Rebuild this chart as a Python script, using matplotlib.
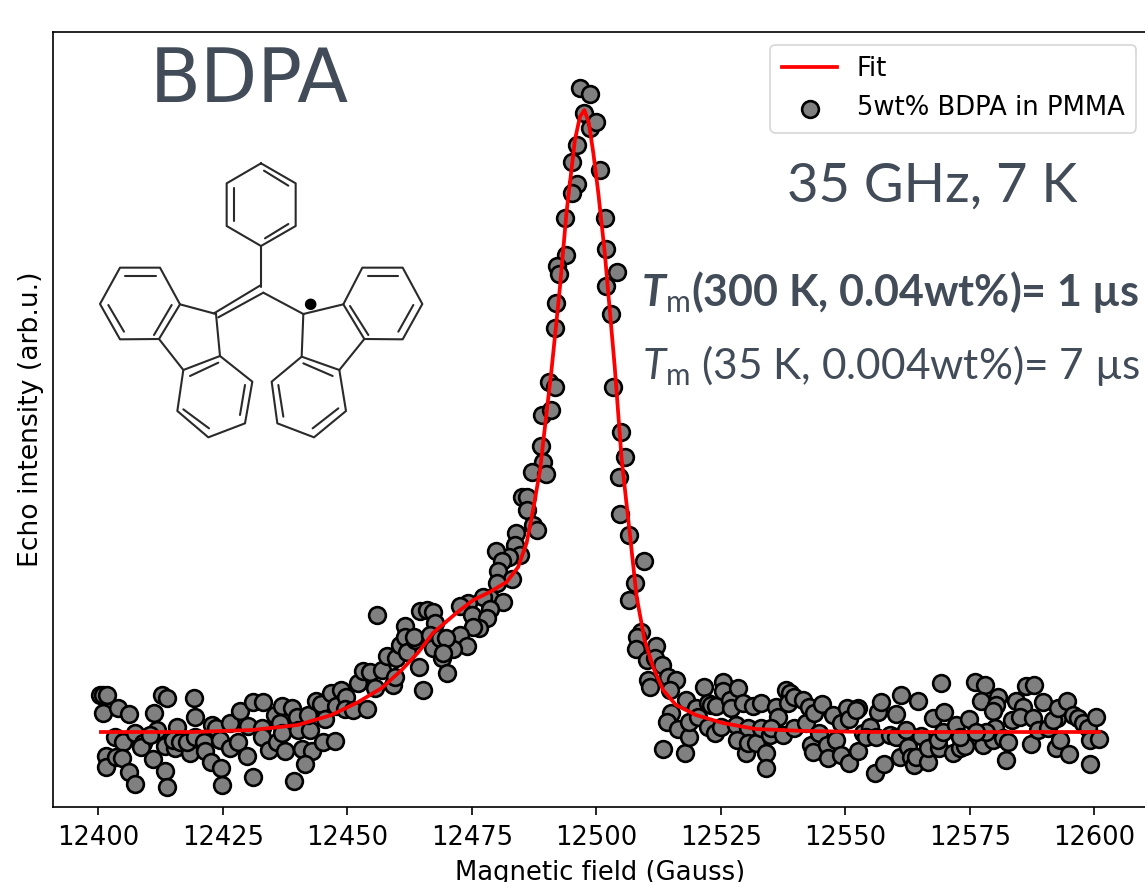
import matplotlib
matplotlib.use("Agg")
import matplotlib.pyplot as plt
from matplotlib.lines import Line2D

plt.rcParams['mathtext.fontset'] = 'custom'
plt.rcParams['mathtext.rm'] = 'Lato'
plt.rcParams['mathtext.it'] = 'Lato:italic'
plt.rcParams['mathtext.bf'] = 'Lato:bold'
plt.rcParams['mathtext.bfit'] = 'Lato:italic:bold'

W, H = 1145, 882

x_ticks = [12400, 12425, 12450, 12475, 12500, 12525, 12550, 12575, 12600]

fit_field = [12400.5, 12410, 12418.9, 12430.9, 12440, 12446.8, 12452.2, 12456.9, 12460.9, 12464.3, 12467.2,
             12471.9, 12475.3, 12478.6, 12482, 12484.3, 12486, 12487.3, 12488.7, 12490, 12491,
             12492.7, 12494, 12495.7, 12496.7, 12497.6, 12498.5, 12499.4, 12500.4, 12501.7, 12502.7,
             12503.7, 12505.1, 12506.8, 12508.1, 12509.7, 12511.4, 12513.4, 12516, 12520, 12525.4,
             12532, 12542, 12555.6, 12601]
fit_int = [0, 0, 0, 2, 7, 17, 30, 44, 62, 80, 99,
           119, 132, 140, 150, 165, 189, 222, 262, 319, 362,
           445, 519, 592, 615, 622, 609, 579, 539, 479, 422,
           365, 272, 195, 135, 92, 65, 42, 27, 17, 9,
           3, 1, 0, 0]

field_low = [12400.3, 12401.0, 12401.8, 12401.0, 12404.0, 12406.1, 12403.3, 12405.0, 12407.3, 12409.0, 12408.5,
             12401.6, 12401.6, 12403.6, 12404.7, 12406.1, 12407.3, 12410.9, 12411.1, 12412.7, 12413.7, 12411.7,
             12410.3, 12413.4, 12415.4, 12415.7, 12415.0, 12416.4, 12418.4, 12417.7, 12419.2, 12419.4, 12413.4,
             12413.8, 12419.4, 12421.2, 12421.4, 12422.7, 12424.6, 12424.9, 12422.9, 12423.7, 12424.4, 12426.4,
             12426.5, 12428.1, 12428.4, 12430.0, 12429.8, 12431.0, 12433.0, 12431.0, 12432.8, 12432.8, 12434.3,
             12435.4, 12435.8, 12436.8, 12436.4, 12436.8, 12437.4, 12438.8, 12439.8, 12440.1, 12440.8, 12442.5,
             12442.1, 12442.9, 12441.5, 12439.3, 12443.8, 12444.8, 12445.6, 12445.1, 12447.5, 12446.8, 12448.8,
             12447.8, 12449.8, 12449.5, 12451.2, 12453.9, 12452.2, 12453.2, 12454.5, 12455.5, 12456.9, 12457.9,
             12459.2, 12459.5, 12459.7, 12460.5, 12461.5, 12461.5, 12461.9, 12463.6, 12463.4, 12464.4, 12465.2,
             12464.6, 12465.9, 12467.1, 12467.6, 12466.6, 12467.1, 12455.9, 12468.6, 12469.0]
int_low = [37, 37, 37, 19, 24, 18, -5, -10, -1, -11, -15,
           -24, -35, -25, -26, -40, -52, -27, 19, 37, 34, 2,
           -3, -14, -16, 5, -8, -10, -21, -10, 34, 15, -39,
           -55, -5, -10, -19, -30, -36, -53, 7, 4, -8, 9,
           -16, -10, 21, 6, -24, 30, 30, -45, 4, -5, -18,
           17, -10, 26, 9, -1, -19, 24, 15, 2, -17, 2,
           17, -19, -32, -49, 31, 28, 13, -10, -9, 39, 42,
           26, 35, 23, 22, 23, 49, 61, 60, 44, 62, 76,
           47, 55, 74, 87, 106, 95, 80, 92, 95, 65, 42,
           121, 122, 120, 109, 97, 84, 117, 94, 74]

field_rise = [12490.4, 12491.7, 12489.0, 12490.9, 12488.8, 12489.2, 12487.0, 12489.9, 12485.1, 12486.1, 12486.1,
              12487.2, 12488.0, 12483.9, 12483.7, 12484.7, 12482.5, 12479.8, 12481.0, 12480.3, 12483.0, 12480.1,
              12478.6, 12477.3, 12481.3, 12474.3, 12472.6, 12475.0, 12478.6, 12478.0, 12476.5, 12475.3, 12472.6,
              12474.1, 12471.3, 12469.9, 12469.3, 12470.1]
int_rise = [350, 345, 317, 322, 286, 270, 260, 258, 235, 235, 222,
            207, 202, 199, 187, 177, 175, 181, 171, 161, 153, 149,
            134, 135, 130, 129, 126, 117, 123, 114, 104, 105, 97,
            86, 83, 94, 79, 59]

field_fall = [12503.4, 12504.9, 12505.8, 12504.6, 12504.7, 12506.6, 12509.6, 12507.8, 12506.5, 12509.0,
              12508.1, 12507.9, 12512.0, 12510.1, 12511.8, 12513.1, 12510.4, 12510.8, 12514.4, 12516.1]
int_fall = [345, 300, 275, 255, 218, 197, 171, 149, 132, 100,
            95, 83, 86, 72, 74, 67, 52, 45, 55, 52]

field_peak = [12496.7, 12498.7, 12497.5, 12498.8, 12500.0, 12496.2, 12495.2, 12500.7, 12496.2, 12495.1, 12493.8,
              12501.8, 12494.0, 12501.9, 12492.1, 12492.5, 12504.1, 12501.9, 12491.9, 12502.9, 12491.7]
int_peak = [644, 638, 619, 604, 610, 587, 570, 562, 548, 539, 514,
            514, 477, 483, 466, 458, 460, 446, 429, 418, 404]

field_high = [12514.7, 12514.9, 12514.1, 12516.4, 12513.4, 12518.1, 12517.9, 12518.7, 12518.7, 12520.1, 12520.4,
              12521.6, 12522.4, 12522.4, 12523.1, 12524.0, 12523.8, 12525.4, 12525.4, 12525.1, 12526.8, 12527.1,
              12528.4, 12529.4, 12528.1, 12531.5, 12533.1, 12530.5, 12528.2, 12530.1, 12530.5, 12532.1, 12534.1,
              12534.0, 12533.1, 12534.8, 12536.1, 12536.5, 12535.1, 12537.5, 12538.0, 12538.8, 12538.5, 12539.8,
              12541.5, 12539.8, 12542.2, 12542.8, 12543.8, 12545.4, 12543.2, 12543.5, 12544.8, 12546.4, 12546.5,
              12548.2, 12547.5, 12549.2, 12549.2, 12550.3, 12550.7, 12552.5, 12552.2, 12550.7, 12552.5, 12553.5,
              12554.9, 12554.2, 12556.2, 12556.6, 12557.1, 12555.9, 12557.7, 12560.2, 12561.1, 12558.9, 12560.2,
              12562.2, 12560.9, 12562.6, 12563.3, 12564.6, 12563.9, 12564.3, 12565.3, 12566.6, 12566.6, 12567.6,
              12568.9, 12568.6, 12569.8, 12569.2, 12569.6, 12571.6, 12572.3, 12573.0, 12574.0, 12573.0, 12574.8,
              12576.0, 12578.1, 12577.6, 12577.3, 12580.7, 12580.2, 12579.7, 12580.0, 12579.7, 12578.3, 12576.3,
              12581.7, 12582.7, 12582.3, 12584.3, 12583.5, 12585.7, 12585.0, 12586.3, 12588.0, 12589.7, 12587.7,
              12587.4, 12588.7, 12590.7, 12592.4, 12593.2, 12592.6, 12591.7, 12592.7, 12594.5, 12595.0, 12595.7,
              12596.7, 12597.7, 12598.7, 12600.4, 12599.1, 12600.9, 12599.2]
int_high = [42, 19, 10, 3, -17, 32, -21, -5, 10, 24, 15,
            45, 29, 5, 27, 26, -1, 50, 41, 5, 32, 24,
            44, 29, 7, 26, 29, 4, -8, -21, -11, -11, -21,
            -36, 4, -3, 25, 15, 4, -3, 42, 39, 29, 35,
            32, 4, 9, 25, 19, 28, -13, -20, -1, -13, -26,
            -8, 17, 9, -23, 24, 13, 24, 22, -31, -19, -1,
            5, -5, -5, 20, 30, -41, -32, 18, 37, -3, -5,
            2, -25, -15, -25, 31, -33, -25, -4, -30, -16, 14,
            -16, -8, 20, 49, 0, -21, 7, -16, -14, -5, 13,
            50, 47, -13, 31, 35, 27, 21, 4, -8, 0, 0,
            -6, -10, -28, 31, 12, 25, 15, 46, 47, 30, 14,
            -12, 2, 4, -16, -8, 14, 12, 24, 31, -22, 17,
            14, 9, 4, 15, -8, -7, -32]

field = field_low + field_rise + field_peak + field_fall + field_high
intensity = int_low + int_rise + int_peak + int_fall + int_high

fig = plt.figure(figsize=(W / 100, H / 100), dpi=100)
ax = fig.add_axes([53 / W, 1 - 807 / H, (1147 - 53) / W, (807 - 32) / H])
ax.plot(fit_field, fit_int, color='red', lw=2.7, label='Fit', zorder=3, solid_joinstyle='round')
ax.scatter(field, intensity, s=145, color='#808080', edgecolor='black', linewidths=1.9,
           label='5wt% BDPA in PMMA', zorder=2)
ax.set_xlim(12390.88, 12610.6)
ax.set_ylim(-75, 700)
ax.set_xticks(x_ticks)
ax.set_yticks([])
ax.tick_params(axis='x', labelsize=18.5, width=1.2, length=5.8, pad=7)
for s in ax.spines.values():
    s.set_linewidth(1.2)
ax.set_xlabel('Magnetic field (Gauss)', fontsize=18.6)
ax.set_ylabel('Echo intensity (arb.u.)', fontsize=19.2)
ax.xaxis.set_label_coords((600 - 53) / (1147 - 53), (807 - 873) / 775, transform=ax.transAxes)
ax.xaxis.label.set_va('center')
ax.yaxis.set_label_coords((31 - 53) / (1147 - 53), (807 - 419) / 775, transform=ax.transAxes)
ax.yaxis.label.set_va('center')

leg = ax.legend(loc='upper right', bbox_to_anchor=((1136 - 53) / (1147 - 53), (807 - 45) / 775),
                borderaxespad=0, fontsize=18.6, labelspacing=0.5, handlelength=2.15, handletextpad=0.75,
                frameon=True, framealpha=0.8, edgecolor='#cccccc', borderpad=0.44)
leg.get_frame().set_linewidth(1.2)

slate = '#424c58'
def put(px, py, s, **kw):
    fig.text(px / W, 1 - py / H, s, color=slate, va='baseline', ha='left', **kw)

put(150, 102, 'BDPA', fontsize=53.6, family='DejaVu Sans')
put(787, 202, '35 GHz, 7 K', fontsize=39.2, family='Lato')
put(641, 306, r'$\mathbfit{T}_{\mathrm{m}}$(300 K, 0.04wt%)= 1 µs', fontsize=31, family='Lato', fontweight='bold')
put(642, 379, r'$\mathit{T}_{\mathrm{m}}$ (35 K, 0.004wt%)= 7 µs', fontsize=30.5, family='Lato')

# Molecule sketch, in pixels of the 340x300 inset scaled by 3
mol = [
    [(513, 40), (617, 100), (617, 228), (513, 288), (410, 228), (410, 100), (513, 40)],
    [(522, 62), (595, 107)], [(432, 115), (432, 212)], [(525, 265), (595, 222)],
    [(513, 288), (513, 410)],
    [(513, 405), (372, 490)], [(520, 428), (385, 502)], [(520, 428), (640, 492)],
    [(378, 492), (270, 463), (207, 567), (280, 660), (390, 618), (378, 492)],
    [(270, 463), (210, 353), (90, 353), (30, 462), (90, 568), (207, 567)],
    [(105, 378), (197, 378)], [(55, 465), (102, 545)], [(245, 465), (192, 555)],
    [(390, 618), (487, 695), (465, 820), (355, 862), (262, 783), (280, 660)],
    [(300, 678), (385, 638)], [(465, 705), (450, 795)], [(280, 778), (357, 835)],
    [(640, 492), (760, 463), (823, 567), (748, 660), (635, 620), (640, 492)],
    [(760, 463), (817, 353), (938, 353), (997, 462), (938, 568), (823, 567)],
    [(833, 378), (925, 378)], [(970, 465), (925, 545)], [(780, 468), (835, 555)],
    [(635, 620), (545, 695), (562, 820), (672, 862), (768, 783), (748, 660)],
    [(640, 640), (728, 678)], [(565, 705), (580, 800)], [(668, 835), (745, 775)],
]
def mx(z): return (90 + z / 3) / W
def my(z): return 1 - (150 + z / 3) / H
for seg in mol:
    fig.add_artist(Line2D([mx(p[0]) for p in seg], [my(p[1]) for p in seg], color='#2a2a2a', lw=1.5,
                          solid_joinstyle='round', solid_capstyle='round'))
fig.text(mx(659), my(460), '\u25cf', fontsize=11, color='black', ha='center', va='center', family='DejaVu Sans')

fig.savefig('out.png', dpi=100)
